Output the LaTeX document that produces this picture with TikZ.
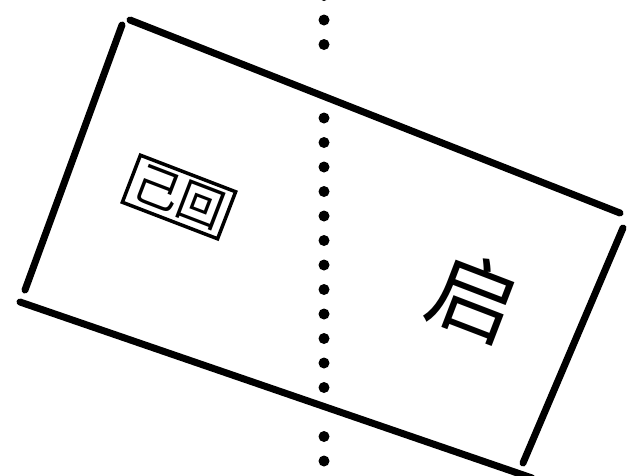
\documentclass[tikz,border=0pt]{standalone}
\usepackage{fontspec}
\newfontfamily\cjk{Noto Sans CJK SC}
\usepackage{tikz}

\begin{document}
\begin{tikzpicture}[x=1pt, y=-1pt,
    edge/.style={line width=7pt, line cap=round},
    dot/.style={circle, fill, inner sep=0pt, minimum size=11pt},
    glyph/.style={font=\cjk\fontsize{88}{88}\selectfont, rotate=-21, inner sep=0pt},
    seal/.style={draw, line width=3.5pt, rotate=-21, inner sep=5pt,
                 font=\cjk\fontsize{46}{46}\selectfont}
  ]
  \useasboundingbox (0,0) rectangle (632,475);

  % ===== tilted frame =====
  \coordinate (tlA) at (130,20);
  \coordinate (trA) at (620,213);
  \coordinate (trB) at (623,228);
  \coordinate (brB) at (523,463);
  \coordinate (blA) at (20,302);
  \coordinate (brA) at (532,478);
  \coordinate (tlB) at (122,25);
  \coordinate (blB) at (25,290);

  \draw[edge] (tlA) -- (trA);
  \draw[edge] (trB) -- (brB);
  \draw[edge] (blA) -- (brA);
  \draw[edge] (tlB) -- (blB);

  % ===== dotted axis =====
  \foreach \k in {0,1,2,5,6,7,8,9,10,11,12,13,14,15,16,18,19}
    \node[dot] (d\k) at (324,-4.5+24.5*\k) {};

  % ===== signs =====
  \node[seal] (west) at (179,197) {己回};
  \node[glyph] (east) at (475,297) {启};

\end{tikzpicture}
\end{document}
